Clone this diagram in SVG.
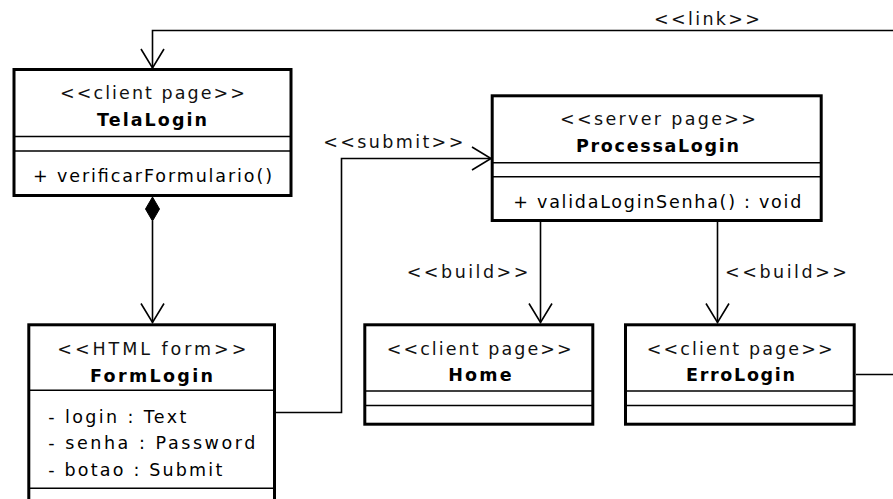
<svg xmlns="http://www.w3.org/2000/svg" width="893" height="499" viewBox="0 0 893 499">
<defs>
<style>
.box{fill:#fff;stroke:#000;stroke-width:3}
.sep{stroke:#000;stroke-width:1.5;fill:none}
.con{stroke:#000;stroke-width:1.6;fill:none}
text{font-family:"DejaVu Sans","Liberation Sans",sans-serif;font-size:17.5px;fill:#000}
.st{font-weight:normal;fill:#111}
.nm{font-weight:bold}
</style>
<marker id="open" viewBox="-21 -13 23 26" markerWidth="23" markerHeight="26" refX="0" refY="0" orient="auto" markerUnits="userSpaceOnUse">
<path d="M-19,-11.5 L0,0 L-19,11.5" fill="none" stroke="#000" stroke-width="1.6"/>
</marker>
</defs>
<rect width="893" height="499" fill="#fff"/>
<g id="connectors">
<path class="con" d="M856,374.5 H905 V30.5 H152.5 V68" marker-end="url(#open)"/>
<path class="con" d="M152.5,221 V322.5" marker-end="url(#open)"/>
<polygon points="152.5,197 159.5,209 152.5,221 145.5,209" fill="#000" stroke="#000" stroke-width="1"/>
<path class="con" d="M276,412.5 H341.5 V158.5 H491" marker-end="url(#open)"/>
<path class="con" d="M540.5,222 V322.5" marker-end="url(#open)"/>
<path class="con" d="M717.5,222 V322.5" marker-end="url(#open)"/>
<text class="st" x="654" y="25" textLength="106" lengthAdjust="spacing">&lt;&lt;link&gt;&gt;</text>
<text class="st" x="323.3" y="148.3" textLength="140" lengthAdjust="spacing">&lt;&lt;submit&gt;&gt;</text>
<text class="st" x="406.7" y="278.3" textLength="121.7" lengthAdjust="spacing">&lt;&lt;build&gt;&gt;</text>
<text class="st" x="725" y="278.3" textLength="122" lengthAdjust="spacing">&lt;&lt;build&gt;&gt;</text>
</g>
<g id="TelaLogin">
<rect class="box" x="14" y="69.5" width="277" height="126"/>
<line class="sep" x1="14" y1="136.5" x2="291" y2="136.5"/>
<line class="sep" x1="14" y1="151" x2="291" y2="151"/>
<text class="st" x="60" y="99" textLength="185" lengthAdjust="spacing">&lt;&lt;client page&gt;&gt;</text>
<text class="nm" x="97" y="125.7" textLength="110" lengthAdjust="spacing">TelaLogin</text>
<text x="33" y="182" textLength="239" lengthAdjust="spacing">+ verificarFormulario()</text>
</g>
<g id="ProcessaLogin">
<rect class="box" x="492.2" y="95.8" width="329" height="124.7"/>
<line class="sep" x1="492" y1="162.7" x2="821" y2="162.7"/>
<line class="sep" x1="492" y1="176.7" x2="821" y2="176.7"/>
<text class="st" x="560" y="125.3" textLength="196" lengthAdjust="spacing">&lt;&lt;server page&gt;&gt;</text>
<text class="nm" x="576" y="151.7" textLength="163" lengthAdjust="spacing">ProcessaLogin</text>
<text x="513.3" y="208.3" textLength="288" lengthAdjust="spacing">+ validaLoginSenha() : void</text>
</g>
<g id="FormLogin">
<rect class="box" x="28.8" y="324.8" width="245.7" height="200"/>
<line class="sep" x1="29" y1="390.3" x2="274" y2="390.3"/>
<line class="sep" x1="29" y1="488.3" x2="274" y2="488.3"/>
<text class="st" x="57.3" y="355" textLength="189" lengthAdjust="spacing">&lt;&lt;HTML form&gt;&gt;</text>
<text class="nm" x="90" y="381.7" textLength="123" lengthAdjust="spacing">FormLogin</text>
<text x="48.3" y="423.3" textLength="138" lengthAdjust="spacing">- login : Text</text>
<text x="48.3" y="449.3" textLength="207" lengthAdjust="spacing">- senha : Password</text>
<text x="48.3" y="476" textLength="174" lengthAdjust="spacing">- botao : Submit</text>
</g>
<g id="Home">
<rect class="box" x="364.8" y="324.8" width="228" height="99.4"/>
<line class="sep" x1="365" y1="391" x2="593" y2="391"/>
<line class="sep" x1="365" y1="405.6" x2="593" y2="405.6"/>
<text class="st" x="386.7" y="354.5" textLength="185" lengthAdjust="spacing">&lt;&lt;client page&gt;&gt;</text>
<text class="nm" x="448.3" y="380.7" textLength="63.3" lengthAdjust="spacing">Home</text>
</g>
<g id="ErroLogin">
<rect class="box" x="625.5" y="324.8" width="228.7" height="99.4"/>
<line class="sep" x1="626" y1="391" x2="854" y2="391"/>
<line class="sep" x1="626" y1="405.6" x2="854" y2="405.6"/>
<text class="st" x="646.7" y="354.5" textLength="186" lengthAdjust="spacing">&lt;&lt;client page&gt;&gt;</text>
<text class="nm" x="686" y="380.7" textLength="109" lengthAdjust="spacing">ErroLogin</text>
</g>
</svg>
